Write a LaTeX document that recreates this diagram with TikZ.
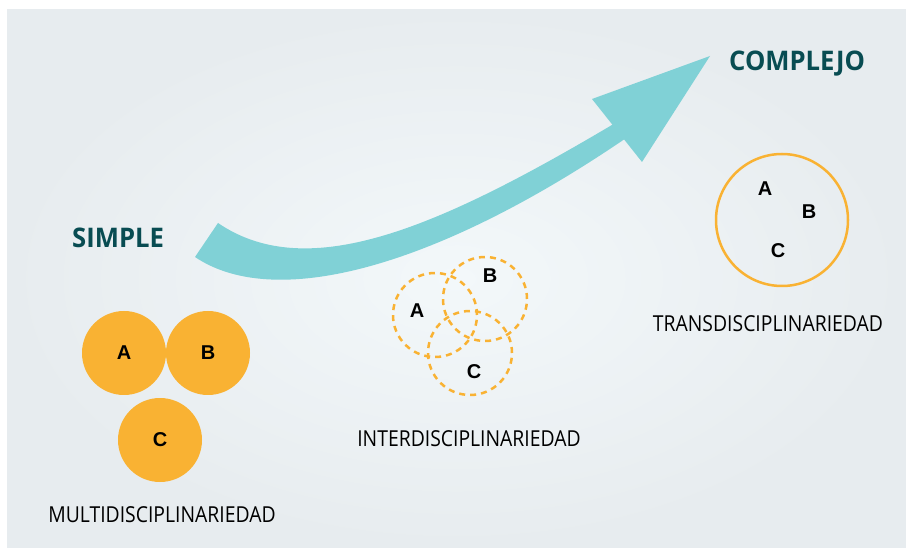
\documentclass[tikz,border=0pt]{standalone}
\usepackage{fontspec}
\setmainfont{Open Sans}
\newfontfamily\condfont[FakeStretch=0.88]{Open Sans}
\newfontfamily\headfont[FakeStretch=0.95]{Open Sans}
\newfontfamily\letterfont{Liberation Sans}

\definecolor{discorange}{RGB}{249,178,51}
\definecolor{arrowteal}{RGB}{128,209,214}
\definecolor{titleteal}{RGB}{8,76,82}
\definecolor{panelin}{RGB}{243,248,250}
\definecolor{panelout}{RGB}{231,236,239}

\tikzset{
  disc/.style={circle,fill=discorange,minimum size=84pt,inner sep=0pt},
  ring/.style={circle,draw=discorange,line width=2.5pt,dash pattern=on 6pt off 5pt,minimum size=84pt,inner sep=0pt},
  bigring/.style={circle,draw=discorange,line width=2.5pt,minimum size=132pt,inner sep=0pt},
  letter/.style={font=\letterfont\bfseries\fontsize{20}{20}\selectfont,inner sep=0pt},
  caption/.style={font=\condfont\fontsize{22}{22}\selectfont,inner sep=0pt},
  heading/.style={font=\headfont\bfseries\fontsize{27}{27}\selectfont,text=titleteal,inner sep=0pt}
}

\begin{document}
\begin{tikzpicture}[x=1pt,y=-1pt]
\useasboundingbox (0,0) rectangle (906,548);
\fill[white] (0,0) rectangle (906,548);
\shade[inner color=panelin,outer color=panelout] (7,10) rectangle (906,547);

% big arrow from simple to complex
\coordinate (tailup) at (218,223);
\coordinate (taillow) at (195,257);
\coordinate (headup) at (622,119);
\coordinate (headlow) at (632,134);
\fill[arrowteal] (tailup) .. controls (309,285) and (441,227) .. (headup)
  -- (headlow) .. controls (445,263) and (278,313) .. (taillow) -- cycle;
\fill[arrowteal] (592,99) -- (710,56) -- (642,162) -- cycle;

\node[heading,anchor=west] (simple) at (72,238) {SIMPLE};
\node[heading,anchor=west] (complejo) at (729,64) {COMPLEJO};

% multidisciplinariedad
\node[disc,letter] (mA) at (124,353) {A};
\node[disc,letter] (mB) at (208,353) {B};
\node[disc,letter] (mC) at (160,440) {C};
\node[caption] (multi) at (162,515) {MULTIDISCIPLINARIEDAD};

% interdisciplinariedad
\node[ring] (iA) at (435,315) {};
\node[ring] (iB) at (485,299) {};
\node[ring] (iC) at (470,353) {};
\node[letter] (iAl) at (417,311) {A};
\node[letter] (iBl) at (490,276) {B};
\node[letter] (iCl) at (474,372) {C};
\node[caption] (inter) at (469,439) {INTERDISCIPLINARIEDAD};

% transdisciplinariedad
\node[bigring] (tABC) at (782,220) {};
\node[letter] (tAl) at (765,189) {A};
\node[letter] (tBl) at (809,212) {B};
\node[letter] (tCl) at (778,251) {C};
\node[caption] (trans) at (768,324) {TRANSDISCIPLINARIEDAD};
\end{tikzpicture}
\end{document}
